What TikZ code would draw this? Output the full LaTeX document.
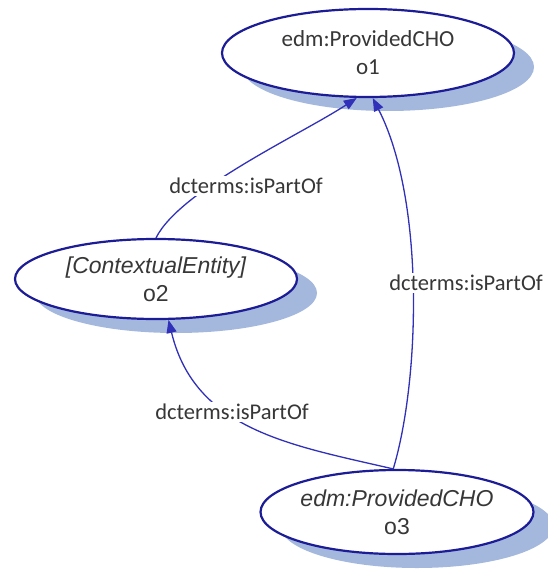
\documentclass[tikz,border=0pt]{standalone}
\usepackage{fontspec}
\setmainfont{Carlito}
\newfontfamily\arialfont{Liberation Sans}
\usetikzlibrary{shapes.geometric,arrows.meta,shadows}
\definecolor{rimblue}{RGB}{28,28,150}
\definecolor{edgeblue}{RGB}{48,48,185}
\definecolor{shadowblue}{RGB}{164,184,222}
\definecolor{textgray}{RGB}{55,55,55}
\begin{document}
\begin{tikzpicture}[x=1pt,y=-1pt,
  entity/.style={ellipse, draw=rimblue, line width=2.2pt, fill=white,
    inner sep=0pt, text=textgray, align=center,
    font=\fontsize{23}{28}\selectfont,
    drop shadow={shadow xshift=20pt, shadow yshift=-14pt,
      fill=shadowblue, opacity=1}},
  relation/.style={draw=edgeblue, line width=1.3pt,
    -{Triangle[length=13pt,width=10pt]}},
  rellabel/.style={fill=white, inner sep=2pt, text=textgray,
    font=\fontsize{22.5}{28}\selectfont}]
\useasboundingbox (0,0) rectangle (547,569);

% resources
\node[entity, minimum width=292pt, minimum height=88pt] (o1) at (368,53)
  {edm:ProvidedCHO\\o1};
\node[entity, minimum width=282pt, minimum height=80pt] (o2) at (156,279)
  {{\arialfont\itshape [ContextualEntity]}\\{\arialfont o2}};
\node[entity, minimum width=262pt, minimum height=84pt] (o3) at (397,512)
  {{\arialfont\itshape edm:ProvidedCHO}\\{\arialfont o3}};

% isPartOf relations
\draw[relation] (o2.north) .. controls (180,190) and (300,135) .. (o1.256);
\draw[relation] (o3.95) .. controls (420,380) and (425,200) .. (o1.276);
\draw[relation] (o3.95) .. controls (290,445) and (195,430) .. (o2.287);

% relation labels
\node[rellabel] (l1) at (246,186) {dcterms:isPartOf};
\node[rellabel] (l2) at (466,283) {dcterms:isPartOf};
\node[rellabel] (l3) at (232,412) {dcterms:isPartOf};
\end{tikzpicture}
\end{document}
